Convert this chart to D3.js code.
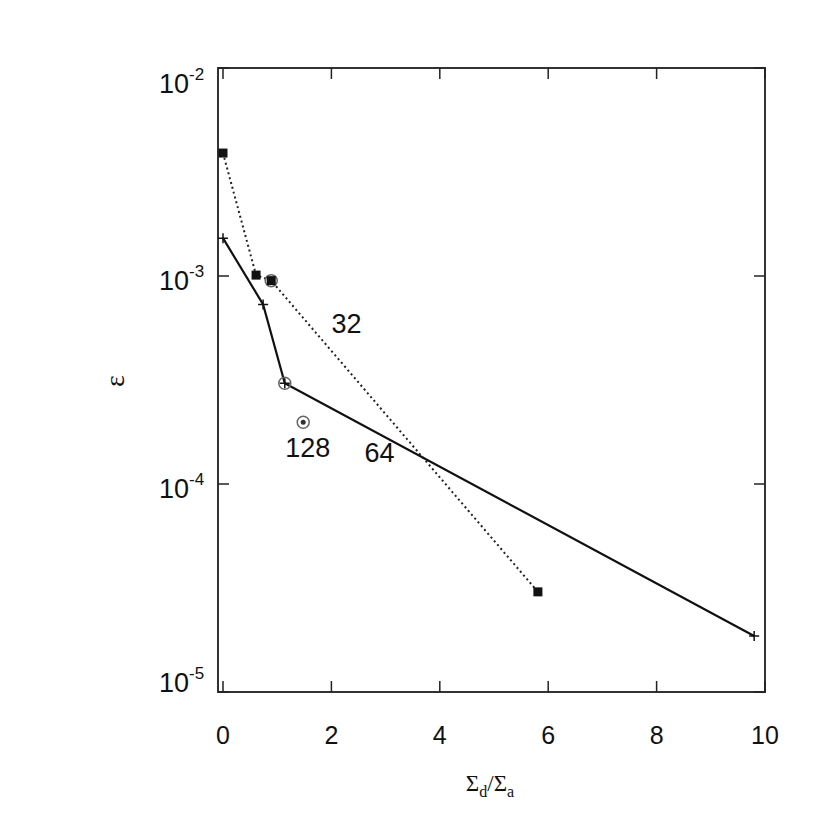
<!DOCTYPE html>
<html>
<head>
<meta charset="utf-8">
<script src="https://cdn.jsdelivr.net/npm/d3@7"></script>
<style>
  body { margin: 0; background: #fff; }
  svg { display: block; }
</style>
</head>
<body>
<svg id="chart" width="830" height="830"></svg>
<script>
// dotted series (squares)
let dottedX = [0, 0.61, 0.89, 5.81];
let dottedY = [3.9e-3, 1.01e-3, 0.95e-3, 3.03e-5];

// solid series (plus marks)
let solidX = [0, 0.74, 1.14, 9.8];
let solidY = [1.52e-3, 7.3e-4, 3.05e-4, 1.86e-5];

// circled points
let circX = [0.89, 1.14, 1.48];
let circY = [0.95e-3, 3.05e-4, 1.98e-4];

// lone dot inside the 128 circle
let dotX = [1.48];
let dotY = [1.98e-4];

// resolution labels (text, anchor in data units)
let labelText = ["32", "64", "128"];
let labelX = [2.0, 2.61, 1.15];
let labelY = [5.3e-4, 1.28e-4, 1.35e-4];

let xTicks = [0, 2, 4, 6, 8, 10];
let yTicks = [1e-2, 1e-3, 1e-4, 1e-5];
let yTickExp = ["-2", "-3", "-4", "-5"];

const svg = d3.select("#chart");
const mLeft = 218, mRight = 765, mTop = 68, mBottom = 692;

const x = d3.scaleLinear().domain([0, 10]).range([223, 765]);
const y = d3.scaleLog().domain([1e-5, 1e-2]).range([mBottom, mTop]);

const sans = "'Liberation Sans', Arial, Helvetica, sans-serif";
const serif = "'Liberation Serif', 'Times New Roman', serif";

// frame
svg.append("rect")
  .attr("x", mLeft).attr("y", mTop)
  .attr("width", mRight - mLeft).attr("height", mBottom - mTop)
  .attr("fill", "none").attr("stroke", "#333").attr("stroke-width", 2);

// x ticks (bottom + mirrored top), pointing inward
xTicks.forEach(function (t) {
  svg.append("line")
    .attr("x1", x(t)).attr("x2", x(t))
    .attr("y1", mBottom).attr("y2", mBottom - 11)
    .attr("stroke", "#222").attr("stroke-width", 1.5);
  svg.append("line")
    .attr("x1", x(t)).attr("x2", x(t))
    .attr("y1", mTop).attr("y2", mTop + 11)
    .attr("stroke", "#222").attr("stroke-width", 1.5);
  svg.append("text")
    .attr("x", x(t)).attr("y", 744)
    .attr("text-anchor", "middle")
    .attr("font-family", sans).attr("font-size", 25)
    .attr("fill", "#111")
    .text(t);
});

// y ticks (left + mirrored right)
yTicks.forEach(function (t, i) {
  svg.append("line")
    .attr("x1", mLeft).attr("x2", mLeft + 11)
    .attr("y1", y(t)).attr("y2", y(t))
    .attr("stroke", "#222").attr("stroke-width", 1.5);
  svg.append("line")
    .attr("x1", mRight).attr("x2", mRight - 11)
    .attr("y1", y(t)).attr("y2", y(t))
    .attr("stroke", "#222").attr("stroke-width", 1.5);
  let ly = Math.min(Math.max(y(t) + 14, 93), mBottom);
  let lab = svg.append("text")
    .attr("x", 159).attr("y", ly)
    .attr("font-family", sans).attr("font-size", 27)
    .attr("fill", "#111");
  lab.append("tspan").text("10");
  lab.append("tspan")
    .attr("font-size", 17).attr("dy", -13)
    .text(yTickExp[i]);
});

// axis titles
let xt = svg.append("text")
  .attr("x", 490).attr("y", 791)
  .attr("text-anchor", "middle")
  .attr("font-family", serif).attr("font-size", 23)
  .attr("fill", "#111");
xt.append("tspan").text("Σ");
xt.append("tspan").attr("font-size", 16).attr("dy", 6).text("d");
xt.append("tspan").attr("dy", -6).text("/Σ");
xt.append("tspan").attr("font-size", 16).attr("dy", 6).text("a");

svg.append("text")
  .attr("transform", "translate(124,381) rotate(-90)")
  .attr("text-anchor", "middle")
  .attr("font-family", serif).attr("font-size", 28)
  .attr("fill", "#111")
  .text("ε");

// lines
const dotted = dottedX.map((d, i) => [d, dottedY[i]]);
const solid = solidX.map((d, i) => [d, solidY[i]]);
const line = d3.line().x((d) => x(d[0])).y((d) => y(d[1]));

svg.append("path")
  .attr("d", line(dotted))
  .attr("fill", "none").attr("stroke", "#222")
  .attr("stroke-width", 2).attr("stroke-dasharray", "2,3");

svg.append("path")
  .attr("d", line(solid))
  .attr("fill", "none").attr("stroke", "#111")
  .attr("stroke-width", 2.2);

// circle markers
circX.forEach(function (cx, i) {
  svg.append("circle")
    .attr("cx", x(cx)).attr("cy", y(circY[i])).attr("r", 6)
    .attr("fill", "none").attr("stroke", "#666").attr("stroke-width", 1.5);
});
dotX.forEach(function (dx, i) {
  svg.append("circle")
    .attr("cx", x(dx)).attr("cy", y(dotY[i])).attr("r", 2.5)
    .attr("fill", "#333");
});

// square markers
dotted.forEach(function (d) {
  svg.append("rect")
    .attr("x", x(d[0]) - 4.5).attr("y", y(d[1]) - 4.5)
    .attr("width", 9).attr("height", 9)
    .attr("fill", "#111");
});

// plus markers
solid.forEach(function (d) {
  let px = x(d[0]), py = y(d[1]);
  svg.append("path")
    .attr("d", `M${px - 5},${py}H${px + 5}M${px},${py - 5}V${py + 5}`)
    .attr("stroke", "#111").attr("stroke-width", 1.5);
});

// labels
labelText.forEach(function (t, i) {
  svg.append("text")
    .attr("x", x(labelX[i])).attr("y", y(labelY[i]))
    .attr("font-family", sans).attr("font-size", 27)
    .attr("fill", "#111")
    .text(t);
});
</script>
</body>
</html>
